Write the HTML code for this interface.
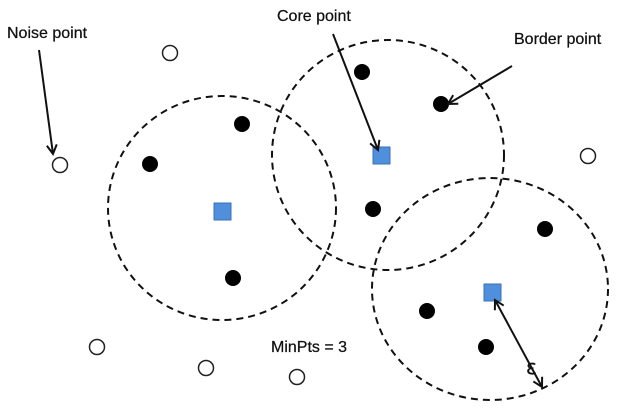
<!DOCTYPE html>
<html><head><meta charset="utf-8"><style>
html,body{margin:0;padding:0;background:#fff;}
svg{display:block;}
text{font-family:"Liberation Sans",sans-serif;font-size:16px;fill:#111;stroke:#111;stroke-width:0.25;}
</style></head><body>
<svg width="627" height="410" viewBox="0 0 627 410" xmlns="http://www.w3.org/2000/svg">
<defs>
<marker id="a" markerWidth="12" markerHeight="12" refX="10" refY="6" orient="auto" markerUnits="userSpaceOnUse">
<path d="M1,1 L10,6 L1,11" fill="none" stroke="#111" stroke-width="2"/>
</marker>
<marker id="b" markerWidth="12" markerHeight="12" refX="2" refY="6" orient="auto" markerUnits="userSpaceOnUse">
<path d="M11,1 L2,6 L11,11" fill="none" stroke="#111" stroke-width="2"/>
</marker>
</defs>
<g fill="none" stroke="#111" stroke-width="2" stroke-dasharray="7,5">
<ellipse cx="222" cy="208" rx="114" ry="112"/>
<ellipse cx="388" cy="155" rx="116" ry="115"/>
<ellipse cx="490" cy="289" rx="118" ry="111"/>
</g>
<g fill="#000">
<circle cx="242" cy="124" r="8"/><circle cx="150" cy="164" r="8"/><circle cx="233" cy="278" r="8"/>
<circle cx="362" cy="72" r="8"/><circle cx="441" cy="104" r="8"/><circle cx="373" cy="209" r="8"/>
<circle cx="545" cy="229" r="8"/><circle cx="427" cy="311" r="8"/><circle cx="486" cy="347" r="8"/>
</g>
<g fill="#fff" stroke="#222" stroke-width="1.5">
<circle cx="60" cy="165" r="7.5"/><circle cx="170" cy="53" r="7.5"/><circle cx="588" cy="156" r="7.5"/>
<circle cx="97" cy="347" r="7.5"/><circle cx="206" cy="368" r="7.5"/><circle cx="297" cy="377" r="7.5"/>
</g>
<g fill="#4f8fdc" stroke="#3a72b8" stroke-width="1">
<rect x="214" y="203" width="17" height="17"/>
<rect x="373" y="147" width="17" height="17"/>
<rect x="484" y="284" width="17" height="17"/>
</g>
<g stroke="#111" stroke-width="2" fill="none">
<line x1="39" y1="50" x2="53" y2="154" marker-end="url(#a)"/>
<line x1="333" y1="34" x2="378" y2="150" marker-end="url(#a)"/>
<line x1="512" y1="66" x2="448" y2="104" marker-end="url(#a)"/>
<line x1="495" y1="300" x2="542" y2="387" marker-start="url(#b)" marker-end="url(#a)"/>
</g>
<text x="7" y="38">Noise point</text>
<text x="277" y="21">Core point</text>
<text x="514" y="44">Border point</text>
<text x="271" y="352">MinPts = 3</text>
<text x="526" y="374" style="font-size:20px;font-family:'DejaVu Sans',sans-serif">ε</text>
</svg>
</body></html>
